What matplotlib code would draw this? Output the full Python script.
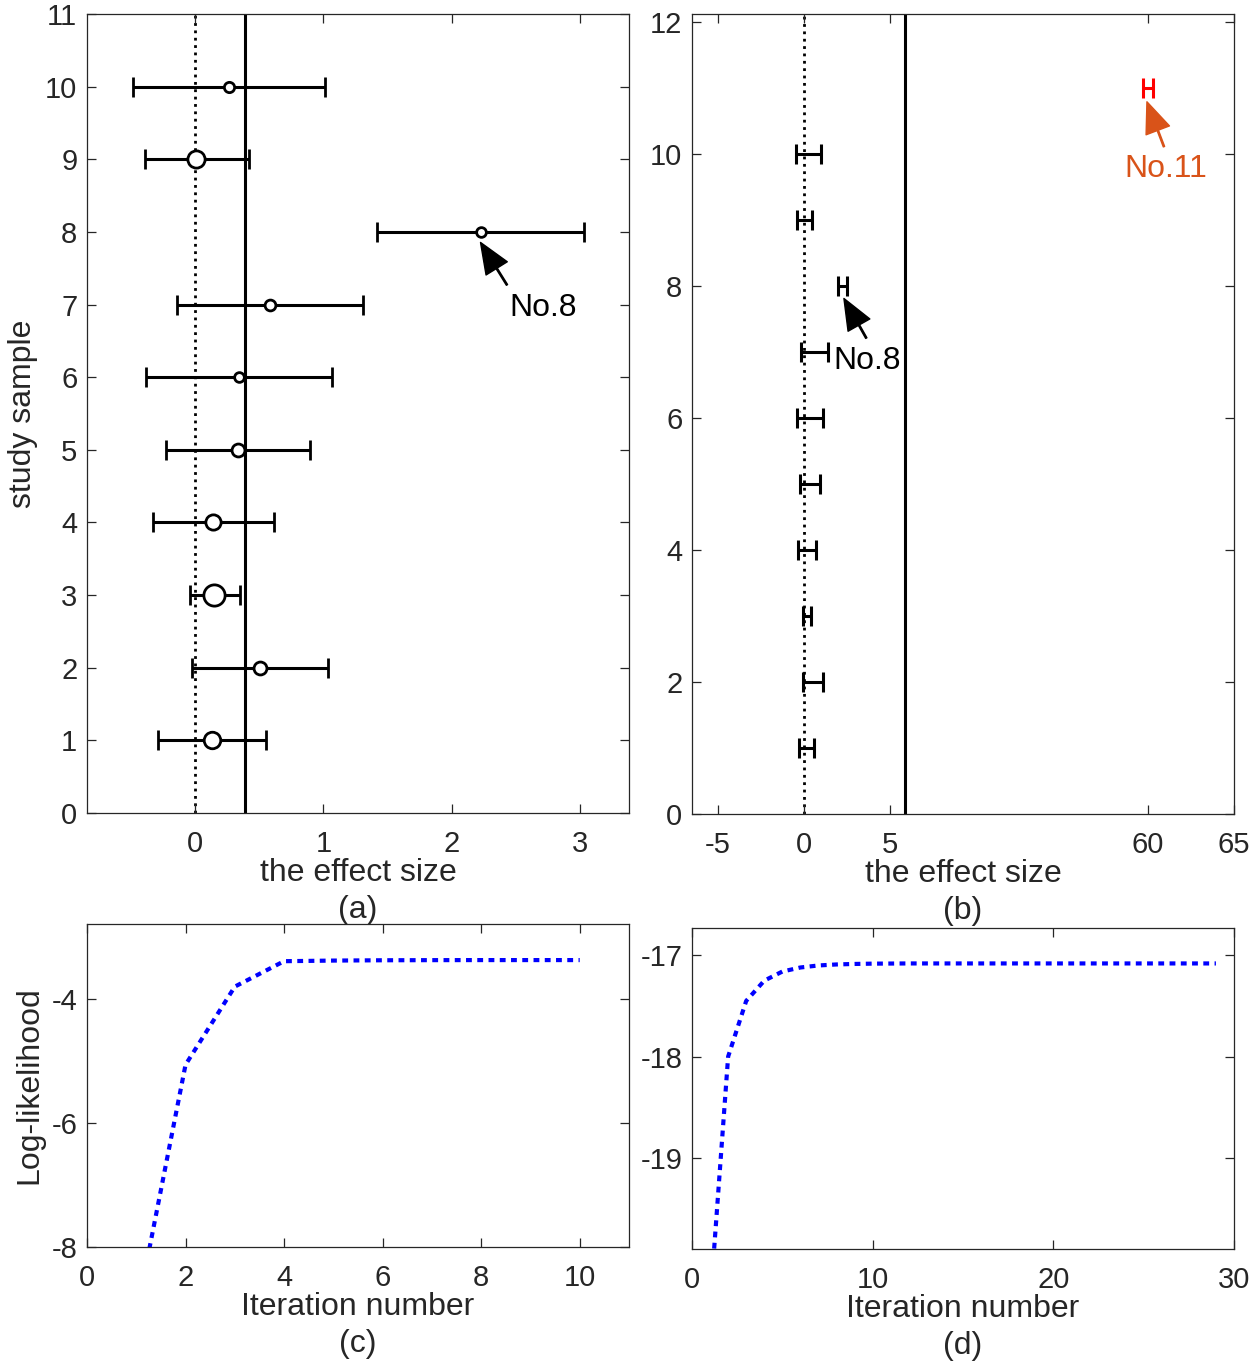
import numpy as np
import matplotlib
matplotlib.use("Agg")
import matplotlib.pyplot as plt

# ---------------- data ----------------
study = [1, 2, 3, 4, 5, 6, 7, 8, 9, 10]
a_mean = [0.134, 0.504, 0.150, 0.142, 0.334, 0.345, 0.582, 2.224, 0.011, 0.264]
a_lower = [-0.287, -0.022, -0.039, -0.323, -0.225, -0.381, -0.142, 1.417, -0.392, -0.484]
a_upper = [0.557, 1.035, 0.348, 0.618, 0.893, 1.069, 1.308, 3.031, 0.420, 1.016]
a_weight_ms = [11.9, 9.3, 15.3, 11.0, 9.3, 7.0, 7.8, 7.0, 12.4, 7.4]
a_pooled = 0.392

study_b = [1, 2, 3, 4, 5, 6, 7, 8, 9, 10, 11]
b_mean = [0.14, 0.50, 0.16, 0.16, 0.35, 0.35, 0.60, 2.25, 0.03, 0.27, 60.0]
b_lower = [-0.29, -0.06, -0.06, -0.35, -0.23, -0.41, -0.16, 2.00, -0.41, -0.48, 59.72]
b_upper = [0.58, 1.09, 0.39, 0.68, 0.93, 1.10, 1.38, 2.50, 0.48, 1.01, 60.28]
b_pooled = 5.87
b_tick_values = [-5, 0, 5, 60, 65]

iter_c = list(range(1, 11))
ll_c = [-9.10, -5.06, -3.80, -3.39, -3.38, -3.375, -3.373, -3.372, -3.372, -3.372]

iter_d = list(range(1, 30))
ll_d = [-20.45, -18.00, -17.45, -17.25, -17.16, -17.12, -17.10, -17.09, -17.085,
        -17.082, -17.081, -17.080, -17.080, -17.080, -17.080, -17.080, -17.080,
        -17.080, -17.080, -17.080, -17.080, -17.080, -17.080, -17.080, -17.080,
        -17.080, -17.080, -17.080, -17.080]

# ---------------- style ----------------
plt.rcParams['font.family'] = ['Liberation Sans', 'DejaVu Sans']
plt.rcParams['axes.unicode_minus'] = False
FS_TICK = 21
FS_LAB = 23
TXT = '#262626'
ORANGE = '#D95319'
LSP = 1.3

# broken axis for panel (b): values above BREAK are shifted left by GAP
BREAK, GAP = 30.0, 40.0
def to_axis(x):
    x = np.asarray(x, dtype=float)
    return np.where(x > BREAK, x - GAP, x)

fig = plt.figure(figsize=(12.51, 13.66), dpi=100)
W, H = 1251.0, 1366.0
def box(l, t, r, b):
    return [l / W, 1 - b / H, (r - l) / W, (b - t) / H]

ax_a = fig.add_axes(box(87, 14, 629, 813))
ax_b = fig.add_axes(box(692, 14, 1234, 814))
ax_c = fig.add_axes(box(87, 924, 629, 1247))
ax_d = fig.add_axes(box(692, 928, 1234, 1249))

def style(ax):
    for s in ax.spines.values():
        s.set_color(TXT)
        s.set_linewidth(0.9)
    ax.tick_params(direction='in', length=6.5, width=0.9, color=TXT,
                   labelcolor=TXT, labelsize=FS_TICK, top=True, right=True)
    ax.tick_params(axis='x', pad=12)
    ax.tick_params(axis='y', pad=7)

for ax in (ax_a, ax_b, ax_c, ax_d):
    style(ax)

arrow_kw = dict(width=1.0, headwidth=18, headlength=22, shrink=0)

# ---------------- (a) ----------------
ax_a.axvline(0, color='k', lw=2, ls=':', zorder=1)
ax_a.axvline(a_pooled, color='k', lw=2.2, zorder=1)
for y, m, lo, hi, ms in zip(study, a_mean, a_lower, a_upper, a_weight_ms):
    ax_a.errorbar(m, y, xerr=[[m - lo], [hi - m]], fmt='o', ms=ms, mfc='white',
                  mec='k', mew=2.0, ecolor='k', elinewidth=2.2, capsize=7,
                  capthick=2.2, zorder=3)
ax_a.annotate('', xy=(a_mean[7], 7.855), xytext=(2.43, 7.27),
              arrowprops=dict(facecolor='k', edgecolor='k', **arrow_kw))
ax_a.text(2.71, 6.95, 'No.8', fontsize=FS_LAB, ha='center', va='center', color='k')
ax_a.set_xlim(-0.84, 3.38)
ax_a.set_ylim(0, 11)
ax_a.set_xticks([0, 1, 2, 3])
ax_a.set_yticks(range(0, 12))
ax_a.set_ylabel('study sample', fontsize=FS_LAB, color=TXT, labelpad=5)
ax_a.set_xlabel('the effect size\n(a)', fontsize=FS_LAB, color=TXT, labelpad=0,
                linespacing=LSP)

# ---------------- (b) ----------------
ax_b.axvline(0, color='k', lw=2, ls=':', zorder=1)
ax_b.axvline(b_pooled, color='k', lw=2.2, zorder=1)
for y, m, lo, hi in zip(study_b, b_mean, b_lower, b_upper):
    col = 'red' if m > BREAK else 'k'
    mp = float(to_axis(m))
    lo_p, hi_p = float(to_axis(lo)), float(to_axis(hi))
    ax_b.errorbar(mp, y, xerr=[[mp - lo_p], [hi_p - mp]], fmt='none',
                  ecolor=col, elinewidth=2.2, capsize=7, capthick=2.2, zorder=3)
ax_b.annotate('', xy=(2.33, 7.81), xytext=(3.63, 7.21),
              arrowprops=dict(facecolor='k', edgecolor='k', **arrow_kw))
ax_b.text(3.66, 6.86, 'No.8', fontsize=FS_LAB, ha='center', va='center', color='k')
ax_b.annotate('', xy=(float(to_axis(59.94)), 10.79), xytext=(float(to_axis(60.93)), 10.11),
              arrowprops=dict(facecolor=ORANGE, edgecolor=ORANGE, **arrow_kw))
ax_b.text(float(to_axis(61.05)), 9.77, 'No.11', fontsize=FS_LAB, ha='center', va='center',
          color=ORANGE)
ax_b.set_xlim(-6.5, 25)
ax_b.set_ylim(0, 12.12)
ax_b.set_xticks(to_axis(b_tick_values))
ax_b.set_xticklabels([str(v) for v in b_tick_values])
ax_b.set_yticks(range(0, 13, 2))
ax_b.set_xlabel('the effect size\n(b)', fontsize=FS_LAB, color=TXT, labelpad=0,
                linespacing=LSP)

# ---------------- (c) ----------------
dot = (0, (1.4, 1.3))
ax_c.plot(iter_c, ll_c, color='blue', lw=3, ls=dot)
ax_c.set_xlim(0, 11)
ax_c.set_ylim(-8, -2.79)
ax_c.set_xticks(range(0, 11, 2))
ax_c.set_yticks([-8, -6, -4])
ax_c.set_ylabel('Log-likelihood', fontsize=FS_LAB, color=TXT, labelpad=5)
ax_c.set_xlabel('Iteration number\n(c)', fontsize=FS_LAB, color=TXT, labelpad=0,
                linespacing=LSP)

# ---------------- (d) ----------------
ax_d.plot(iter_d, ll_d, color='blue', lw=3, ls=dot)
ax_d.set_xlim(0, 30)
ax_d.set_ylim(-19.9, -16.73)
ax_d.set_xticks([0, 10, 20, 30])
ax_d.set_yticks([-19, -18, -17])
ax_d.set_xlabel('Iteration number\n(d)', fontsize=FS_LAB, color=TXT, labelpad=0,
                linespacing=LSP)

fig.savefig('out.png', dpi=100, facecolor='white')
